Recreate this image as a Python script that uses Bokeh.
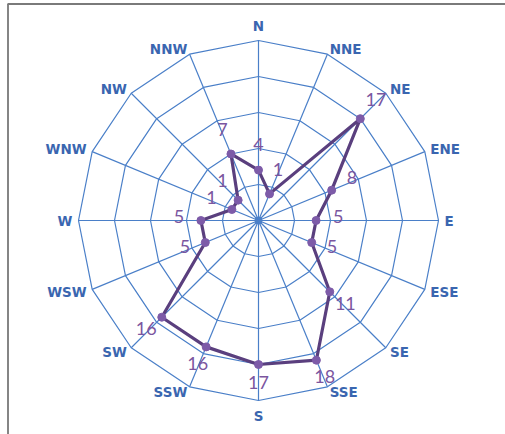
import math
from bokeh.plotting import figure
from bokeh.models import Range1d, ColumnDataSource
from bokeh.core.properties import value
from bokeh.embed import file_html
from bokeh.resources import INLINE

# ---- data ----
directions = ["N", "NNE", "NE", "ENE", "E", "ESE", "SE", "SSE",
              "S", "SSW", "SW", "WSW", "W", "WNW", "NW", "NNW"]
counts = [4, 1, 17, 8, 5, 5, 11, 18, 17, 16, 16, 5, 5, 1, 1, 7]
ring_values = [2, 7, 12, 17, 22]
axis_min = -3
axis_max = 22

# ---- layout / style ----
W, H = 505, 434
CX, CY, R = 258, 220, 180
GRID = "#4a7fc8"
CAT = "#3a66b0"
LINE = "#5a3f7e"
MARK = "#7d5ba8"
LAB = "#7b569f"

def rad(v):
    return (v - axis_min) / (axis_max - axis_min) * R

n = len(directions)
ang = [2 * math.pi * i / n for i in range(n)]

def xy(r, a):
    return CX + r * math.sin(a), CY - r * math.cos(a)

p = figure(width=W, height=H, output_backend="svg", toolbar_location=None,
           x_range=Range1d(0, W), y_range=Range1d(H, 0),
           min_border=0, min_border_left=0, min_border_right=0,
           min_border_top=0, min_border_bottom=0)
p.axis.visible = False
p.grid.visible = False
p.outline_line_color = None
p.background_fill_color = "white"
p.border_fill_color = "white"

# frame border (top and left visible)
p.line([7.5, 7.5], [3.5, H], line_color="#858585", line_width=2)
p.line([7, W], [3.5, 3.5], line_color="#7a7a7a", line_width=2)

# rings
ring_xs, ring_ys = [], []
for rv in ring_values:
    pts = [xy(rad(rv), a) for a in ang] + [xy(rad(rv), ang[0])]
    ring_xs.append([q[0] for q in pts])
    ring_ys.append([q[1] for q in pts])
p.multi_line(ring_xs, ring_ys, line_color=GRID, line_width=1.2)

# spokes
sp_xs, sp_ys = [], []
for a in ang:
    ex, ey = xy(rad(axis_max), a)
    sp_xs.append([CX, ex])
    sp_ys.append([CY, ey])
p.multi_line(sp_xs, sp_ys, line_color=GRID, line_width=1.2)
p.scatter([CX], [CY], size=7, color=GRID)

# category labels
for d, a in zip(directions, ang):
    s, c = math.sin(a), math.cos(a)
    if abs(s) < 0.1:
        off = 7
        base = "bottom" if c > 0 else "top"
        align = "center"
    else:
        off = 6
        base = "middle"
        align = "left" if s > 0 else "right"
    lx, ly = xy(R + off, a)
    p.text([lx], [ly], text=[d], text_align=align, text_baseline=base,
           text_font=value("DejaVu Sans"), text_font_style="bold",
           text_font_size="13.5px", text_color=CAT)

# series
px, py = [], []
for v, a in zip(counts, ang):
    x, y = xy(rad(v), a)
    px.append(x)
    py.append(y)
p.line(px + [px[0]], py + [py[0]], line_color=LINE, line_width=3.2,
       line_join="round")
p.scatter(px, py, size=8, color=MARK)

# data labels
lx, ly = [], []
for v, a in zip(counts, ang):
    x, y = xy(rad(v) + 22, a)
    lx.append(x)
    ly.append(y - 4)
src = ColumnDataSource(dict(x=lx, y=ly, t=[str(v) for v in counts]))
p.text("x", "y", text="t", source=src, text_align="center",
       text_baseline="middle", text_font=value("Lato"),
       text_font_size="18px", text_color=LAB)

open("out.html", "w").write(file_html(p, INLINE))
